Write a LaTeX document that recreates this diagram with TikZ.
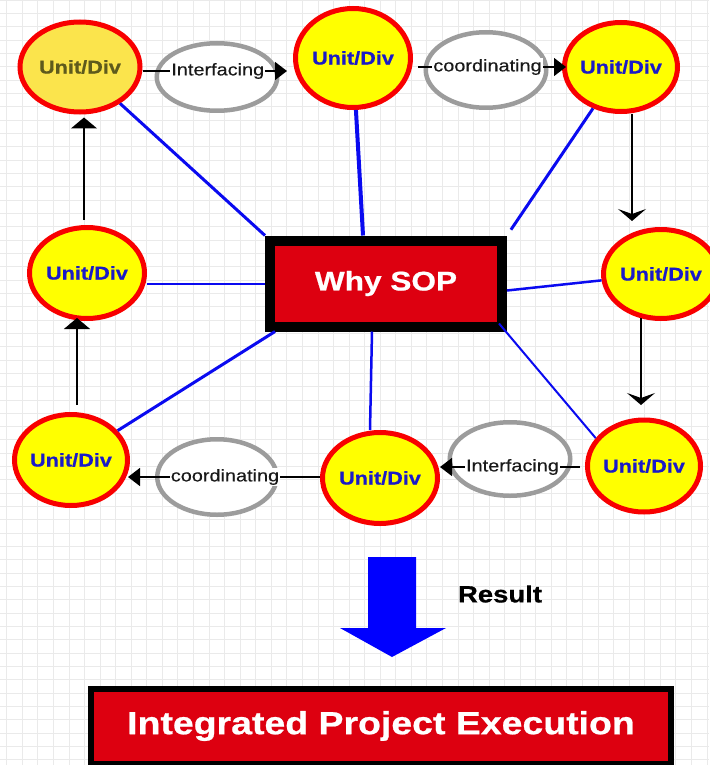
\documentclass[tikz,border=0pt]{standalone}
\usepackage{fontspec}
\setmainfont{Liberation Sans}
\newfontfamily\af[FakeStretch=1.17, FakeBold=0.3, BoldFeatures={FakeBold=0.7}]{Liberation Sans}
\usetikzlibrary{shapes.geometric,arrows.meta,calc}
\definecolor{unitred}{HTML}{F80000}
\definecolor{unityel}{HTML}{FFFF00}
\definecolor{selyel}{HTML}{FBE44C}
\definecolor{oltext}{HTML}{5E5A1C}
\definecolor{unitblue}{HTML}{1A1AC8}
\definecolor{boxred}{HTML}{DD0010}
\definecolor{ringgray}{HTML}{9C9C9C}
\definecolor{gridgray}{HTML}{EAEAEA}
\definecolor{spoke}{HTML}{0A0AF0}
\definecolor{bigblue}{HTML}{0000FF}
\begin{document}
\begin{tikzpicture}[x=1pt,y=-1pt,
  unit/.style={ellipse, draw=unitred, line width=5pt, fill=unityel, inner xsep=-10pt, inner ysep=0pt,
    text=unitblue, font=\af\bfseries\fontsize{18.5}{20}\selectfont},
  sel/.style={fill=selyel, text=oltext},
  ring/.style={ellipse, draw=ringgray, line width=4.5pt, fill=white, inner sep=0pt},
  lab/.style={fill=white, inner xsep=1pt, inner ysep=1pt, text=black!90, font=\af\fontsize{17}{19}\selectfont},
  conn/.style={line width=1.4pt, black},
  harr/.style={-{Triangle[length=12pt,width=18pt]}},
  uarr/.style={-{Triangle[length=11pt,width=26pt]}},
  darr/.style={-{Stealth[length=12pt,width=28pt,inset=5pt]}},
  spk/.style={draw=spoke, line width=3pt},
  redbox/.style={rectangle, draw=black, fill=boxred, text=white, inner sep=0pt},
  gridline/.style={draw=gridgray, line width=0.8pt}
]
\useasboundingbox (0,0) rectangle (709,765);
\fill[white] (0,0) rectangle (709,765);
% background grid
\foreach \i in {0,...,45} \draw[gridline] ({6.7+15.56*\i},0) -- ({6.7+15.56*\i},765);
\foreach \j in {0,...,57} \draw[gridline] (0,{13.33*\j}) -- (709,{13.33*\j});

% label rings
\node[ring, minimum width=120.5pt, minimum height=67.5pt] (gi1) at (217,77) {};
\node[ring, minimum width=120.5pt, minimum height=75.5pt] (gc1) at (486,70) {};
\node[ring, minimum width=119.5pt, minimum height=75.5pt] (gc2) at (217,477) {};
\node[ring, minimum width=120.5pt, minimum height=73.5pt] (gi2) at (510,459) {};

% unit nodes
\node[unit, sel, minimum width=120pt, minimum height=90pt] (tl) at (80,67) {Unit/Div};
\node[unit, minimum width=115pt, minimum height=99pt] (tm) at (353,58) {Unit/Div};
\node[unit, minimum width=113pt, minimum height=89pt] (tr) at (621,67) {Unit/Div};
\node[unit, minimum width=115pt, minimum height=89pt] (rm) at (661,274) {Unit/Div};
\node[unit, minimum width=113pt, minimum height=92pt] (br) at (644,466) {Unit/Div};
\node[unit, minimum width=115pt, minimum height=91pt] (bm) at (380,478) {Unit/Div};
\node[unit, minimum width=113pt, minimum height=91pt] (bl) at (71,460) {Unit/Div};
\node[unit, minimum width=115pt, minimum height=91pt] (lm) at (87,273) {Unit/Div};

% central box
\node[redbox, line width=10pt, minimum width=232pt, minimum height=86pt,
  font=\af\bfseries\fontsize{27}{30}\selectfont] (sop) at (386,283.5) {Why SOP};

% spokes
\draw[spk] (sop.north west) -- (tl);
\draw[spk, line width=4pt] ([xshift=-23pt]sop.north) -- (tm);
\draw[spk, shorten <=7pt] (sop.north east) -- (tr);
\draw[spk, line width=2pt] (sop.west) -- (sop.west -| lm.east);
\draw[spk, line width=2.5pt] ([yshift=-7pt]sop.east) -- (rm);
\draw[spk] ([xshift=10pt]sop.south west) -- (bl);
\draw[spk, line width=2.5pt] ([xshift=-14pt]sop.south) -- ([xshift=-10pt]bm.north);
\draw[spk, line width=2pt] ([xshift=-8pt,yshift=8pt]sop.south east) -- (br.150);

% horizontal connectors with labels
\draw[conn, harr, shorten >=6pt] (tl.east |- 0,71) -- node[lab] (li1) {Interfacing} (tm.west |- 0,71);
\draw[conn, harr, shorten <=5pt, shorten >=-4pt] (tm.east |- 0,67) -- node[lab] (lc1) {coordinating} (tr.west |- 0,67);
\draw[conn, harr, shorten >=-2pt] (bm.west |- 0,477) -- node[lab] (lc2) {coordinating} (bl.east |- 0,477);
\draw[conn, harr, shorten <=5pt] (br.west |- 0,467) -- node[lab] (li2) {Interfacing} (bm.east |- 0,467);

% vertical connectors
\draw[conn, uarr, shorten <=5pt, shorten >=3pt] ([xshift=-3pt]lm.north) -- ([xshift=-3pt]lm.north |- tl.south);
\draw[conn, uarr, shorten <=7pt, shorten >=-3pt] ([xshift=6pt]bl.north) -- ([xshift=6pt]bl.north |- lm.south);
\draw[conn, darr, shorten >=6pt] ([xshift=11pt]tr.south) -- ([xshift=11pt]tr.south |- rm.north);
\draw[conn, darr, shorten <=-3pt, shorten >=12.5pt] ([xshift=-20pt]rm.south) -- ([xshift=-20pt]rm.south |- br.north);

% result arrow
\fill[bigblue] (368,557) -- (416,557) -- (416,628) -- (446,628) -- (392,657) -- (340,628) -- (368,628) -- cycle;
\node[text=black, font=\af\bfseries\fontsize{23.5}{26}\selectfont] (res) at (500,594) {Result};

% bottom box
\node[redbox, line width=6pt, minimum width=580pt, minimum height=75pt,
  font=\af\bfseries\fontsize{32}{34}\selectfont] (ipe) at (381,726) {Integrated Project Execution};
\end{tikzpicture}
\end{document}
